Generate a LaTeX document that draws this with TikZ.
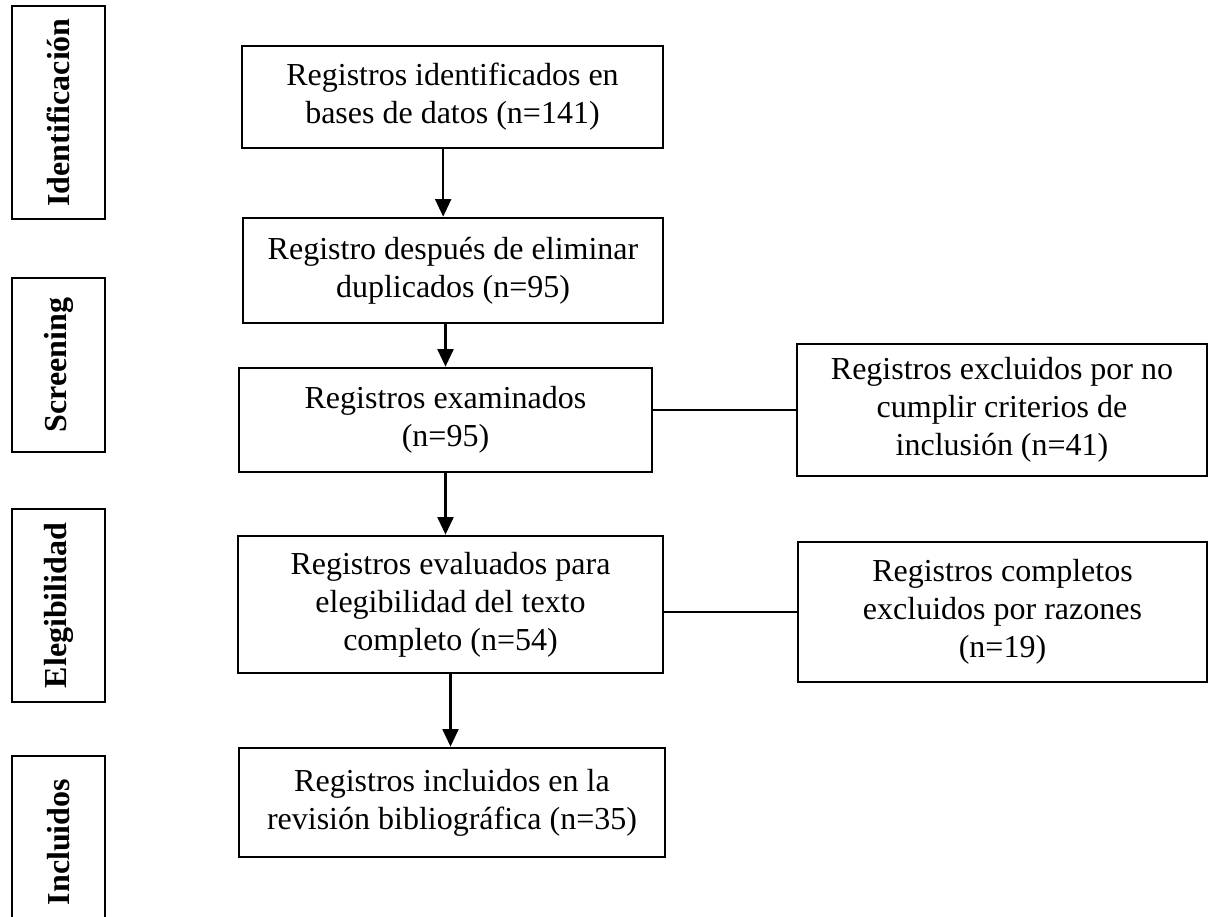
\documentclass[tikz,border=0pt]{standalone}
\usepackage{fontspec}
\setmainfont{Liberation Serif}
\usetikzlibrary{arrows.meta,positioning,calc}
\tikzset{
  >={Triangle[length=6.6pt,width=6pt]},
  box/.style={draw,line width=1pt,align=center,inner sep=2pt,
              font=\fontsize{12}{14.25}\selectfont},
  stage/.style={draw,line width=1pt,rotate=90,inner sep=0pt,
                minimum height=34.9pt,font=\fontsize{12}{14}\selectfont\bfseries}, % rotated phase label
  flow/.style={->,line width=0.85pt},
  link/.style={-,line width=0.5pt},
}
\begin{document}
\begin{tikzpicture}[x=0.375pt,y=-0.375pt]
  \useasboundingbox (0,0) rectangle (1211,917);
  \clip (0,0) rectangle (1211,917);

  % phase labels on the left
  \node[stage,minimum width=79.9pt] (sId)  at (58.5,112.5) {Identificación};
  \node[stage,minimum width=65.3pt] (sScr) at (58.5,365)   {Screening};
  \node[stage,minimum width=72.4pt] (sEle) at (58.5,605.5) {Elegibilidad};
  \node[stage,minimum width=64.5pt] (sInc) at (58.5,842)   {Incluidos};

  % main column
  \node[box,minimum width=157.9pt,minimum height=38.3pt] (bId)  at (452.5,97)
       {Registros identificados en\\bases de datos (n=141)};
  \node[box,minimum width=157.5pt,minimum height=39.4pt] (bDup) at (453,270.5)
       {Registro después de eliminar\\duplicados (n=95)};
  \node[box,minimum width=154.9pt,minimum height=39pt]   (bExa) at (445.5,420)
       {Registros examinados\\(n=95)};
  \node[box,minimum width=159.4pt,minimum height=51.4pt] (bEva) at (450.5,604.5)
       {Registros evaluados para\\elegibilidad del texto\\completo (n=54)};
  \node[box,minimum width=159.8pt,minimum height=40.9pt] (bInc) at (452,802.5)
       {Registros incluidos en la\\revisión bibliográfica (n=35)};

  % exclusions
  \node[box,minimum width=153.8pt,minimum height=49.5pt] (rCri) at (1002,410)
       {Registros excluidos por no\\cumplir criterios de\\inclusión (n=41)};
  \node[box,minimum width=153.4pt,minimum height=52.5pt] (rRaz) at (1002.5,612)
       {Registros completos\\excluidos por razones\\(n=19)};

  % connectors
  \draw[flow] ([xshift=-3.5pt]bId.south) -- ([xshift=-3.5pt]bId.south |- bDup.north);
  \draw[flow] (bExa.north |- bDup.south) -- (bExa.north);
  \draw[flow] (bExa.south) -- (bExa.south |- bEva.north);
  \draw[flow] (bEva.south) -- (bEva.south |- bInc.north);
  \draw[link] (rCri.west -| bExa.east) -- (rCri.west);
  \draw[link] (rRaz.west -| bEva.east) -- (rRaz.west);
\end{tikzpicture}
\end{document}
